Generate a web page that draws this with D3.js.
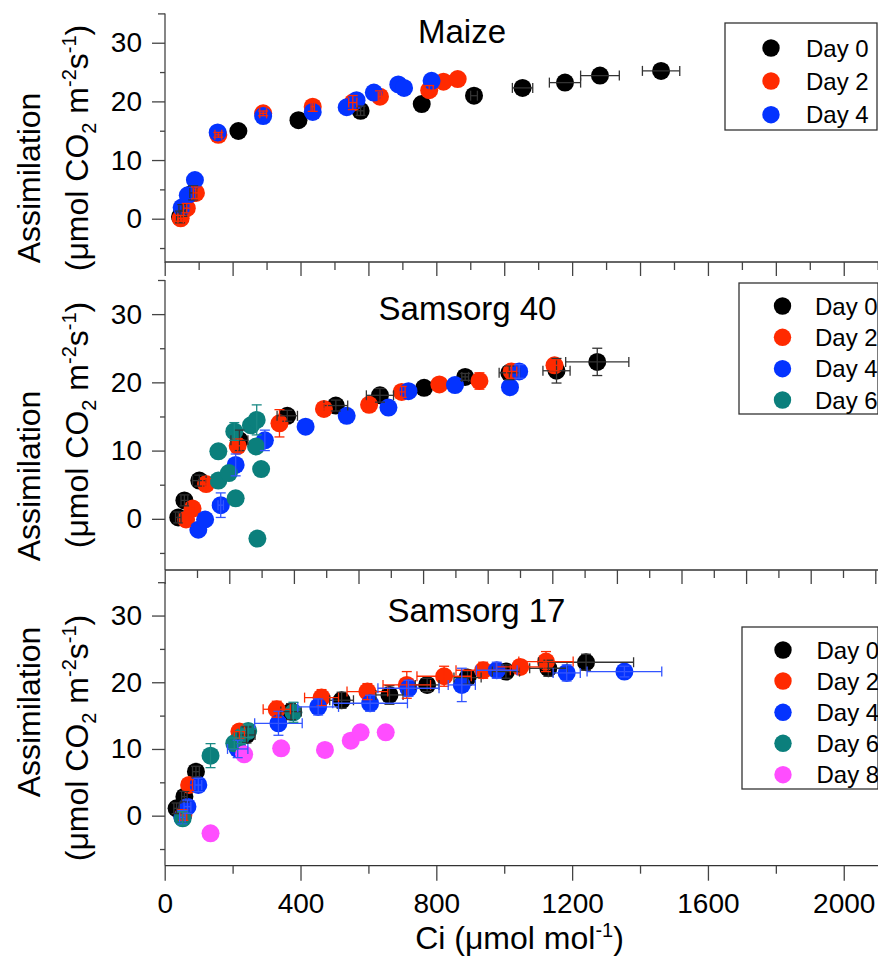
<!DOCTYPE html>
<html>
<head>
<meta charset="utf-8">
<script src="https://cdn.jsdelivr.net/npm/d3@7"></script>
<style>
  html, body { margin: 0; padding: 0; background: #fff; }
  svg text { font-family: "Liberation Sans", Arial, Helvetica, sans-serif; fill: #000; }
</style>
</head>
<body>
<div id="chart"></div>
<script>
// ---------------- DATA ----------------
const dayLabels = ["Day 0", "Day 2", "Day 4", "Day 6", "Day 8"];
const dayColors = ["#000000", "#ff2a00", "#0433ff", "#0b7f7c", "#ff4dff"];
const errColors = ["#333333", "#ff2a00", "#3355ff", "#1a8a85", "#ff4dff"];
const xTicks = [0, 400, 800, 1200, 1600, 2000];
const yTicks = [0, 10, 20, 30];
const panelTitles = ["Maize", "Samsorg 40", "Samsorg 17"];

// Maize
const maizeD0x = [45, 52, 84, 217, 394, 577, 757, 911, 1054, 1179, 1282, 1462];
const maizeD0y = [0.3, 1.4, 4.4, 14.95, 16.8, 18.4, 19.55, 20.97, 22.3, 23.2, 24.4, 25.2];
const maizeD0xe = [10, 10, 10, 0, 0, 10, 0, 10, 30, 46, 57, 55];
const maizeD0ye = [1, 1, 1.2, 0, 0, 0.8, 0, 0, 0, 0, 0, 0];
const maizeD2x = [47, 65, 92, 158, 290, 436, 554, 634, 779, 821, 863];
const maizeD2y = [0.07, 1.8, 4.4, 14.3, 17.96, 19.1, 19.8, 20.8, 21.9, 23.35, 23.8];
const maizeD2xe = [8, 10, 8, 10, 10, 5, 12, 5, 12, 0, 0];
const maizeD2ye = [0.5, 0.8, 1, 0.4, 0.4, 0.8, 1.2, 1.0, 0.8, 0, 0];
const maizeD4x = [50, 68, 89, 156, 290, 436, 536, 565, 616, 688, 705, 786];
const maizeD4y = [1.9, 4.0, 6.6, 14.7, 17.5, 18.2, 19.0, 20.2, 21.5, 22.9, 22.3, 23.5];
const maizeD4xe = [0, 0, 0, 0, 0, 0, 0, 0, 0, 0, 0, 0];
const maizeD4ye = [0, 0, 0, 0, 0, 0, 0, 0, 0, 0, 0, 0];

// Samsorg 40
const s40D0x = [40, 58, 102, 220, 361, 504, 634, 764, 885, 1015, 1154, 1274];
const s40D0y = [0.2, 2.7, 5.6, 11.5, 15.1, 16.6, 18.1, 19.2, 20.8, 21.4, 21.7, 23.0];
const s40D0xe = [8, 10, 20, 25, 30, 35, 40, 0, 10, 30, 40, 93];
const s40D0ye = [0.8, 0.8, 0.8, 1.5, 0.8, 0.8, 1, 0, 0.5, 1, 1.8, 2];
const s40D2x = [63, 82, 122, 215, 338, 469, 602, 698, 809, 927, 1022, 1148];
const s40D2y = [-0.1, 1.5, 5.1, 10.7, 14.0, 16.1, 16.7, 18.6, 19.7, 20.2, 21.6, 22.5];
const s40D2xe = [8, 8, 10, 10, 15, 10, 10, 10, 10, 10, 15, 15];
const s40D2ye = [1, 1, 0.8, 1, 2, 0.8, 0.5, 0.8, 0.5, 1.2, 1, 0.8];
const s40D4x = [99, 119, 165, 209, 295, 415, 536, 659, 718, 855, 1017, 1044];
const s40D4y = [-1.6, -0.1, 2.0, 7.9, 11.5, 13.5, 15.1, 16.3, 18.7, 19.6, 19.3, 21.6];
const s40D4xe = [0, 0, 8, 0, 0, 0, 0, 0, 0, 0, 0, 0];
const s40D4ye = [0, 0, 1.8, 1.6, 1.5, 0, 0, 0, 0, 0, 0, 1];
const s40D6x = [158, 158, 189, 209, 205, 254, 271, 269, 284, 273];
const s40D6y = [9.9, 5.6, 6.7, 3.0, 12.8, 13.7, 14.5, 10.6, 7.3, -2.9];
const s40D6xe = [0, 0, 0, 0, 0, 0, 0, 0, 0, 0];
const s40D6ye = [0, 0, 0, 0, 1.3, 0, 2.2, 0, 0, 0];

// Samsorg 17
const s17D0x = [35, 58, 92, 241, 372, 521, 662, 773, 892, 1005, 1130, 1241];
const s17D0y = [1.1, 2.85, 6.6, 12.1, 15.6, 17.3, 18.1, 19.6, 20.7, 21.6, 22.1, 23.0];
const s17D0xe = [8, 8, 10, 25, 30, 35, 40, 35, 40, 40, 55, 140];
const s17D0ye = [0.8, 0.8, 0.8, 1.2, 1.2, 1.2, 1.4, 1, 1, 1, 1.2, 1.2];
const s17D2x = [55, 72, 220, 330, 462, 597, 713, 823, 938, 1047, 1123];
const s17D2y = [0.1, 4.6, 12.6, 15.95, 17.7, 18.6, 19.6, 20.9, 21.8, 22.3, 23.1];
const s17D2xe = [10, 10, 15, 40, 50, 60, 70, 80, 80, 70, 80];
const s17D2ye = [0.8, 0.8, 1, 1.2, 1.2, 1.2, 2, 1.5, 1.2, 1, 1.5];
const s17D4x = [52, 67, 99, 215, 335, 452, 605, 718, 875, 978, 1184, 1354];
const s17D4y = [-0.25, 1.35, 4.6, 10.0, 13.85, 16.3, 16.85, 19.1, 19.6, 21.8, 21.4, 21.6];
const s17D4xe = [8, 10, 10, 30, 70, 60, 110, 90, 40, 60, 40, 110];
const s17D4ye = [1, 1, 1, 1.3, 1.8, 1.2, 1.2, 1.2, 2.5, 1.2, 1.2, 0.8];
const s17D6x = [53, 135, 205, 225, 246, 379];
const s17D6y = [-0.4, 9.0, 10.85, 11.8, 12.7, 15.5];
const s17D6xe = [0, 0, 0, 0, 0, 0];
const s17D6ye = [1, 1.8, 0.8, 1, 1, 1.5];
const s17D8x = [135, 234, 343, 472, 548, 577, 651];
const s17D8y = [-2.65, 9.2, 10.1, 9.85, 11.25, 12.5, 12.5];

// ---------------- BUILD ----------------
function series(day, xs, ys, xe, ye) {
  return { day, pts: xs.map((x, i) => ({ x, y: ys[i], xe: xe ? xe[i] : 0, ye: ye ? ye[i] : 0 })) };
}
const panels = [
  { title: panelTitles[0], y0: 262.7, y1: 13.4, titleX: 462, titleY: 43,
    legend: { x0: 725, y0: 23, x1: 877, y1: 130, mx: 771, tx: 806, my: [48, 81, 114.7] },
    series: [series(0, maizeD0x, maizeD0y, maizeD0xe, maizeD0ye),
             series(1, maizeD2x, maizeD2y, maizeD2xe, maizeD2ye),
             series(2, maizeD4x, maizeD4y, maizeD4xe, maizeD4ye)] },
  { title: panelTitles[1], y0: 570, y1: 280, titleX: 467.5, titleY: 320,
    legend: { x0: 739, y0: 283, x1: 878, y1: 414, mx: 782.5, tx: 815, my: [306, 337.3, 368.7, 400] },
    series: [series(0, s40D0x, s40D0y, s40D0xe, s40D0ye),
             series(1, s40D2x, s40D2y, s40D2xe, s40D2ye),
             series(2, s40D4x, s40D4y, s40D4xe, s40D4ye),
             series(3, s40D6x, s40D6y, s40D6xe, s40D6ye)] },
  { title: panelTitles[2], y0: 865.7, y1: 582.2, titleX: 476.5, titleY: 622,
    legend: { x0: 742, y0: 627, x1: 878, y1: 789, mx: 783, tx: 816.5, my: [650, 681, 712.3, 743.3, 774.7] },
    series: [series(0, s17D0x, s17D0y, s17D0xe, s17D0ye),
             series(1, s17D2x, s17D2y, s17D2xe, s17D2ye),
             series(2, s17D4x, s17D4y, s17D4xe, s17D4ye),
             series(3, s17D6x, s17D6y, s17D6xe, s17D6ye),
             series(4, s17D8x, s17D8y, null, null)] }
];

const W = 878, H = 958;
const svg = d3.select("#chart").append("svg").attr("width", W).attr("height", H);

const x = d3.scaleLinear().domain([0, 2100]).range([164.7, 877.7]);
const xTop17 = d3.scaleLinear().domain([0, 2200]).range([164.7, 875.3]);
const R = 9;

panels.forEach((p, pi) => {
  const y = d3.scaleLinear().domain([-7.5, 35]).range([p.y0, p.y1]);
  const g = svg.append("g");

  // left axis line
  g.append("line").attr("x1", 165).attr("x2", 165).attr("y1", y(35)).attr("y2", p.y0)
    .attr("stroke", "#444").attr("stroke-width", 1.3);
  const ax = d3.axisLeft(y).tickValues(yTicks).tickSize(13).tickPadding(10).tickFormat(d3.format("d"));
  const axG = g.append("g").attr("transform", "translate(165,0)").call(ax);
  axG.select(".domain").remove();
  axG.selectAll("line").attr("stroke", "#444").attr("stroke-width", 1.3);
  axG.selectAll("text").attr("font-size", 28).attr("fill", "#000");
  const axm = d3.axisLeft(y).tickValues([-5, 5, 15, 25]).tickSize(5).tickFormat("");
  const axmG = g.append("g").attr("transform", "translate(165,0)").call(axm);
  axmG.select(".domain").remove();
  axmG.selectAll("line").attr("stroke", "#444").attr("stroke-width", 1.3);
  const axe = d3.axisLeft(y).tickValues([35]).tickSize(7).tickFormat("");
  const axeG = g.append("g").attr("transform", "translate(165,0)").call(axe);
  axeG.select(".domain").remove();
  axeG.selectAll("line").attr("stroke", "#444").attr("stroke-width", 1.3);

  // title
  g.append("text").attr("x", p.titleX).attr("y", p.titleY).attr("text-anchor", "middle")
    .attr("font-size", 33).text(p.title);

  // markers
  const mk = g.append("g");
  p.series.forEach(s => {
    mk.selectAll(null).data(s.pts).enter().append("circle")
      .attr("cx", d => x(d.x)).attr("cy", d => y(d.y)).attr("r", R)
      .attr("fill", dayColors[s.day]);
  });
  // error bars on top
  const eb = g.append("g").attr("fill", "none").attr("stroke-width", 1.3);
  p.series.forEach(s => {
    const c = errColors[s.day];
    s.pts.forEach(d => {
      if (d.ye > 0) {
        const cx = x(d.x), ya = y(d.y - d.ye), yb = y(d.y + d.ye);
        eb.append("line").attr("x1", cx).attr("x2", cx).attr("y1", ya).attr("y2", yb).attr("stroke", c);
        eb.append("line").attr("x1", cx - 5).attr("x2", cx + 5).attr("y1", ya).attr("y2", ya).attr("stroke", c);
        eb.append("line").attr("x1", cx - 5).attr("x2", cx + 5).attr("y1", yb).attr("y2", yb).attr("stroke", c);
      }
      if (d.xe > 0) {
        const cy = y(d.y), xa = x(d.x - d.xe), xb = x(d.x + d.xe);
        eb.append("line").attr("x1", xa).attr("x2", xb).attr("y1", cy).attr("y2", cy).attr("stroke", c);
        eb.append("line").attr("x1", xa).attr("x2", xa).attr("y1", cy - 5).attr("y2", cy + 5).attr("stroke", c);
        eb.append("line").attr("x1", xb).attr("x2", xb).attr("y1", cy - 5).attr("y2", cy + 5).attr("stroke", c);
      }
    });
  });

  // legend
  const L = p.legend;
  const lg = g.append("g");
  lg.append("rect").attr("x", L.x0).attr("y", L.y0).attr("width", L.x1 - L.x0).attr("height", L.y1 - L.y0)
    .attr("fill", "#fff").attr("stroke", "#333").attr("stroke-width", 1.3);
  p.series.forEach((s, i) => {
    lg.append("circle").attr("cx", L.mx).attr("cy", L.my[i]).attr("r", 8.7).attr("fill", dayColors[s.day]);
    lg.append("text").attr("x", L.tx).attr("y", L.my[i] + 8.5).attr("font-size", 24).text(dayLabels[s.day]);
  });
});

// horizontal separators with inward ticks
function sepAxis(yPos, scale, step) {
  const vals = d3.range(0, scale.domain()[1] + 1, step);
  const gL = svg.append("g");
  gL.append("line").attr("x1", 165).attr("x2", 878).attr("y1", yPos).attr("y2", yPos)
    .attr("stroke", "#333").attr("stroke-width", 1.3);
  const a1 = d3.axisBottom(scale).tickValues(vals.filter(v => v % (2 * step) === 0)).tickSize(14).tickFormat("");
  const a2 = d3.axisBottom(scale).tickValues(vals.filter(v => v % (2 * step) !== 0)).tickSize(8).tickFormat("");
  [a1, a2].forEach(a => {
    const gg = gL.append("g").attr("transform", `translate(0,${yPos})`).call(a);
    gg.select(".domain").remove();
    gg.selectAll("line").attr("stroke", "#444").attr("stroke-width", 1.3);
  });
}
sepAxis(262, x, 100);
sepAxis(570, xTop17, 100);

// bottom x axis
const xb = svg.append("g");
xb.append("line").attr("x1", 165).attr("x2", 878).attr("y1", 865.7).attr("y2", 865.7)
  .attr("stroke", "#333").attr("stroke-width", 1.3);
const axB = d3.axisBottom(x).tickValues(xTicks).tickSize(15).tickPadding(12).tickFormat(d3.format("d"));
const axBG = xb.append("g").attr("transform", "translate(0,865.7)").call(axB);
axBG.select(".domain").remove();
axBG.selectAll("line").attr("stroke", "#444").attr("stroke-width", 1.3);
axBG.selectAll("text").attr("font-size", 28).attr("fill", "#000");
const axBm = d3.axisBottom(x).tickValues([200, 600, 1000, 1400, 1800]).tickSize(8).tickFormat("");
const axBmG = xb.append("g").attr("transform", "translate(0,865.7)").call(axBm);
axBmG.select(".domain").remove();
axBmG.selectAll("line").attr("stroke", "#444").attr("stroke-width", 1.3);

// x title
const xt = svg.append("text").attr("x", 519.5).attr("y", 949).attr("text-anchor", "middle").attr("font-size", 32);
xt.append("tspan").text("Ci (\u03bcmol mol");
xt.append("tspan").attr("dy", -12).attr("font-size", 20).text("-1");
xt.append("tspan").attr("dy", 12).text(")");

// y titles
const yTitles = [
  { c1: 178, c2: 148 },
  { c1: 476, c2: 425 },
  { c1: 712, c2: 738 }
];
yTitles.forEach(t => {
  svg.append("text").attr("transform", `translate(40,${t.c1}) rotate(-90)`)
    .attr("text-anchor", "middle").attr("font-size", 32).text("Assimilation");
  const t2 = svg.append("text").attr("transform", `translate(88,${t.c2}) rotate(-90)`)
    .attr("text-anchor", "middle").attr("font-size", 32);
  t2.append("tspan").text("(\u03bcmol CO");
  t2.append("tspan").attr("dy", 8).attr("font-size", 20).text("2");
  t2.append("tspan").attr("dy", -8).text(" m");
  t2.append("tspan").attr("dy", -12).attr("font-size", 20).text("-2");
  t2.append("tspan").attr("dy", 12).text("s");
  t2.append("tspan").attr("dy", -12).attr("font-size", 20).text("-1");
  t2.append("tspan").attr("dy", 12).text(")");
});
</script>
</body>
</html>
